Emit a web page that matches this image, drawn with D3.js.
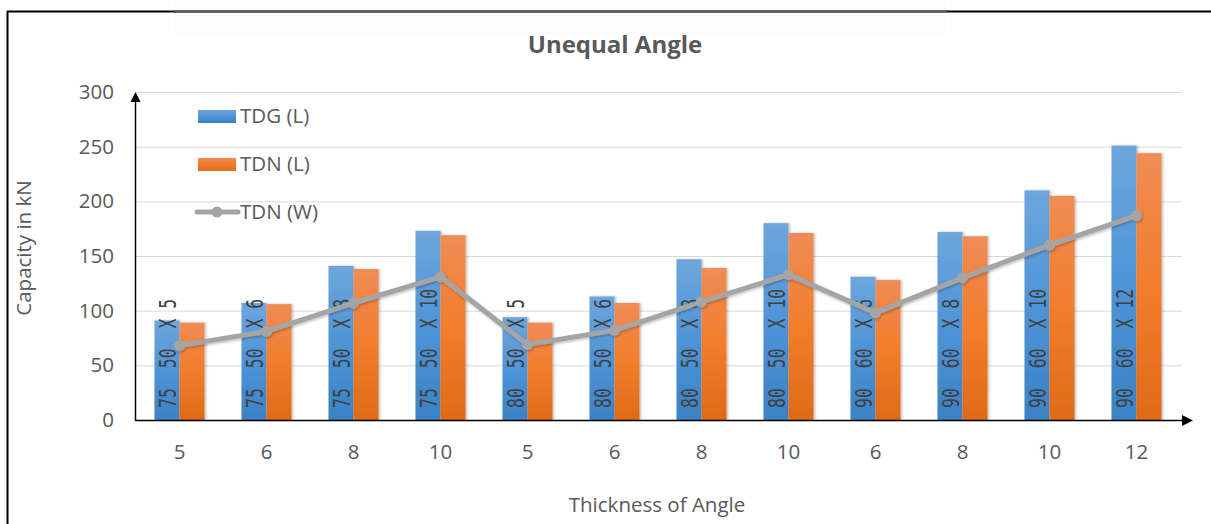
<!DOCTYPE html>
<html><head><meta charset="utf-8">
<script src="https://cdn.jsdelivr.net/npm/d3@7"></script>
<style>html,body{margin:0;padding:0;background:#fff;}svg{display:block;}</style>
</head><body>
<svg id="c" width="1211" height="524"></svg>
<script>
const categories = ["5","6","8","10","5","6","8","10","6","8","10","12"];
const sectionLabels = ["75  50  X 5","75  50  X 6","75  50  X 8","75  50  X 10","80  50  X 5","80  50  X 6","80  50  X 8","80  50  X 10","90  60  X 6","90  60  X 8","90  60  X 10","90  60  X 12"];
const tdgL = [91, 107, 141, 173, 94, 113, 147, 180, 131, 172, 210, 251];
const tdnL = [89, 106, 138, 169, 89, 107, 139, 171, 128, 168, 205, 244];
const tdnW = [68, 81, 107, 131, 69, 82, 108, 133, 98, 130, 160, 187];
const yTicks = [0, 50, 100, 150, 200, 250, 300];
const seriesNames = ["TDG (L)", "TDN (L)", "TDN (W)"];

const svg = d3.select("#c");
const font = "'Open Sans', 'Liberation Sans', sans-serif";
const fs = 20.5;
const defs = svg.append("defs");
function grad(id, stops){
  const g = defs.append("linearGradient").attr("id", id).attr("x1",0).attr("y1",0).attr("x2",0).attr("y2",1);
  stops.forEach(s => g.append("stop").attr("offset", s[0]).attr("stop-color", s[1]));
}
grad("gBlue", [[0,"#6ea6dd"],[0.5,"#4f94d6"],[1,"#3b82c4"]]);
grad("gOrange", [[0,"#ef8c55"],[0.5,"#f27d2c"],[1,"#df6a17"]]);
const f = defs.append("filter").attr("id","sh").attr("x","-20%").attr("y","-5%").attr("width","150%").attr("height","115%");
f.append("feDropShadow").attr("dx",1.5).attr("dy",0).attr("stdDeviation",1.2).attr("flood-color","#000").attr("flood-opacity",0.25);
const fl = defs.append("filter").attr("id","shl").attr("x","-5%").attr("y","-20%").attr("width","110%").attr("height","140%");
fl.append("feDropShadow").attr("dx",1).attr("dy",1.5).attr("stdDeviation",1.2).attr("flood-color","#000").attr("flood-opacity",0.25);

// page frame
svg.append("rect").attr("x",175).attr("y",0).attr("width",770).attr("height",34).attr("fill","#f6f6f6").attr("opacity",0.35);
svg.append("line").attr("x1",7).attr("x2",1211).attr("y1",11.5).attr("y2",11.5).attr("stroke","#000").attr("stroke-width",2);
svg.append("line").attr("x1",174).attr("x2",947).attr("y1",11.5).attr("y2",11.5).attr("stroke","#555").attr("stroke-width",2);
svg.append("line").attr("x1",7.5).attr("x2",7.5).attr("y1",11).attr("y2",524).attr("stroke","#000").attr("stroke-width",2);

const x = d3.scaleBand().domain(d3.range(categories.length)).range([136,1180]).paddingInner(0.425).paddingOuter(0.2125);
const y = d3.scaleLinear().domain([0,300]).range([420,92]);
const bw = x.bandwidth()/2;

// grid
svg.append("g").selectAll("line").data(yTicks.filter(d=>d>0)).join("line")
  .attr("x1",136).attr("x2",1182).attr("y1",d=>y(d)+0.5).attr("y2",d=>y(d)+0.5)
  .attr("stroke","#d9d9d9").attr("stroke-width",1);

// y tick labels
const yAxis = d3.axisLeft(y).tickValues(yTicks).tickSize(0).tickPadding(0);
const gy = svg.append("g").attr("transform","translate(114,0)").call(yAxis);
gy.select(".domain").remove();
gy.selectAll("text").attr("font-family",font).attr("font-size",fs).attr("fill","#595959");

// x tick labels
const xAxis = d3.axisBottom(x).tickFormat(i=>categories[i]).tickSize(0).tickPadding(0);
const gx = svg.append("g").attr("transform","translate(0,440)").call(xAxis);
gx.select(".domain").remove();
gx.selectAll("text").attr("font-family",font).attr("font-size",fs).attr("fill","#595959").attr("y",18.5).attr("dy",0);

// bars
svg.append("g").selectAll("rect").data(tdgL).join("rect")
  .attr("x",(d,i)=>x(i)).attr("width",bw).attr("y",d=>y(d)).attr("height",d=>y(0)-y(d))
  .attr("fill","url(#gBlue)").attr("filter","url(#sh)");
svg.append("g").selectAll("rect").data(tdnL).join("rect")
  .attr("x",(d,i)=>x(i)+bw).attr("width",bw).attr("y",d=>y(d)).attr("height",d=>y(0)-y(d))
  .attr("fill","url(#gOrange)").attr("filter","url(#sh)");

// section labels
svg.append("g").selectAll("text").data(sectionLabels).join("text")
  .attr("transform",(d,i)=>`translate(${x(i)+bw/2+0.5},408) rotate(-90) scale(1,1.4)`)
  .attr("dy","0.36em")
  .attr("font-family","'DejaVu Sans Mono','Liberation Mono',monospace").attr("font-size",16.5)
  .attr("fill","#404040").style("white-space","pre").attr("xml:space","preserve")
  .text(d=>d);

// axes lines with arrows
const ax = svg.append("g");
ax.append("line").attr("x1",135).attr("x2",1184).attr("y1",420.5).attr("y2",420.5).attr("stroke","#000").attr("stroke-width",1.5);
ax.append("path").attr("d","M1182,415 L1193,420.5 L1182,426 Z").attr("fill","#000");
ax.append("line").attr("x1",135.5).attr("x2",135.5).attr("y1",421).attr("y2",100).attr("stroke","#000").attr("stroke-width",1.5);
ax.append("path").attr("d","M130.5,102 L135.5,92 L140.5,102 Z").attr("fill","#000");

// line series
const line = d3.line().x((d,i)=>x(i)+bw).y(d=>y(d));
const lg = svg.append("g").attr("filter","url(#shl)");
lg.append("path").datum(tdnW).attr("d",line).attr("fill","none").attr("stroke","#a5a5a5").attr("stroke-width",5).attr("stroke-linejoin","round");
lg.selectAll("circle").data(tdnW).join("circle").attr("cx",(d,i)=>x(i)+bw).attr("cy",d=>y(d)).attr("r",5.5).attr("fill","#a5a5a5");

// legend
const leg = svg.append("g");
leg.append("rect").attr("x",198).attr("y",110).attr("width",38).attr("height",13).attr("fill","url(#gBlue)");
leg.append("rect").attr("x",198).attr("y",158).attr("width",38).attr("height",13).attr("fill","url(#gOrange)");
leg.append("line").attr("x1",197).attr("x2",238).attr("y1",212).attr("y2",212).attr("stroke","#a5a5a5").attr("stroke-width",5).attr("stroke-linecap","round");
leg.append("circle").attr("cx",217).attr("cy",212).attr("r",5.5).attr("fill","#a5a5a5");
leg.selectAll("text").data(seriesNames).join("text")
  .attr("x",240).attr("y",(d,i)=>[123,171,219][i])
  .attr("font-family",font).attr("font-size",fs).attr("fill","#595959").text(d=>d);

// titles
svg.append("text").attr("x",615).attr("y",53).attr("text-anchor","middle")
  .attr("font-family",font).attr("font-weight","bold").attr("font-size",24).attr("fill","#595959").text("Unequal Angle");
svg.append("text").attr("transform","translate(31,248) rotate(-90)").attr("text-anchor","middle")
  .attr("font-family",font).attr("font-size",fs).attr("fill","#595959").text("Capacity in kN");
svg.append("text").attr("x",657).attr("y",512).attr("text-anchor","middle")
  .attr("font-family",font).attr("font-size",fs).attr("fill","#595959").text("Thickness of Angle");
</script>
</body></html>
